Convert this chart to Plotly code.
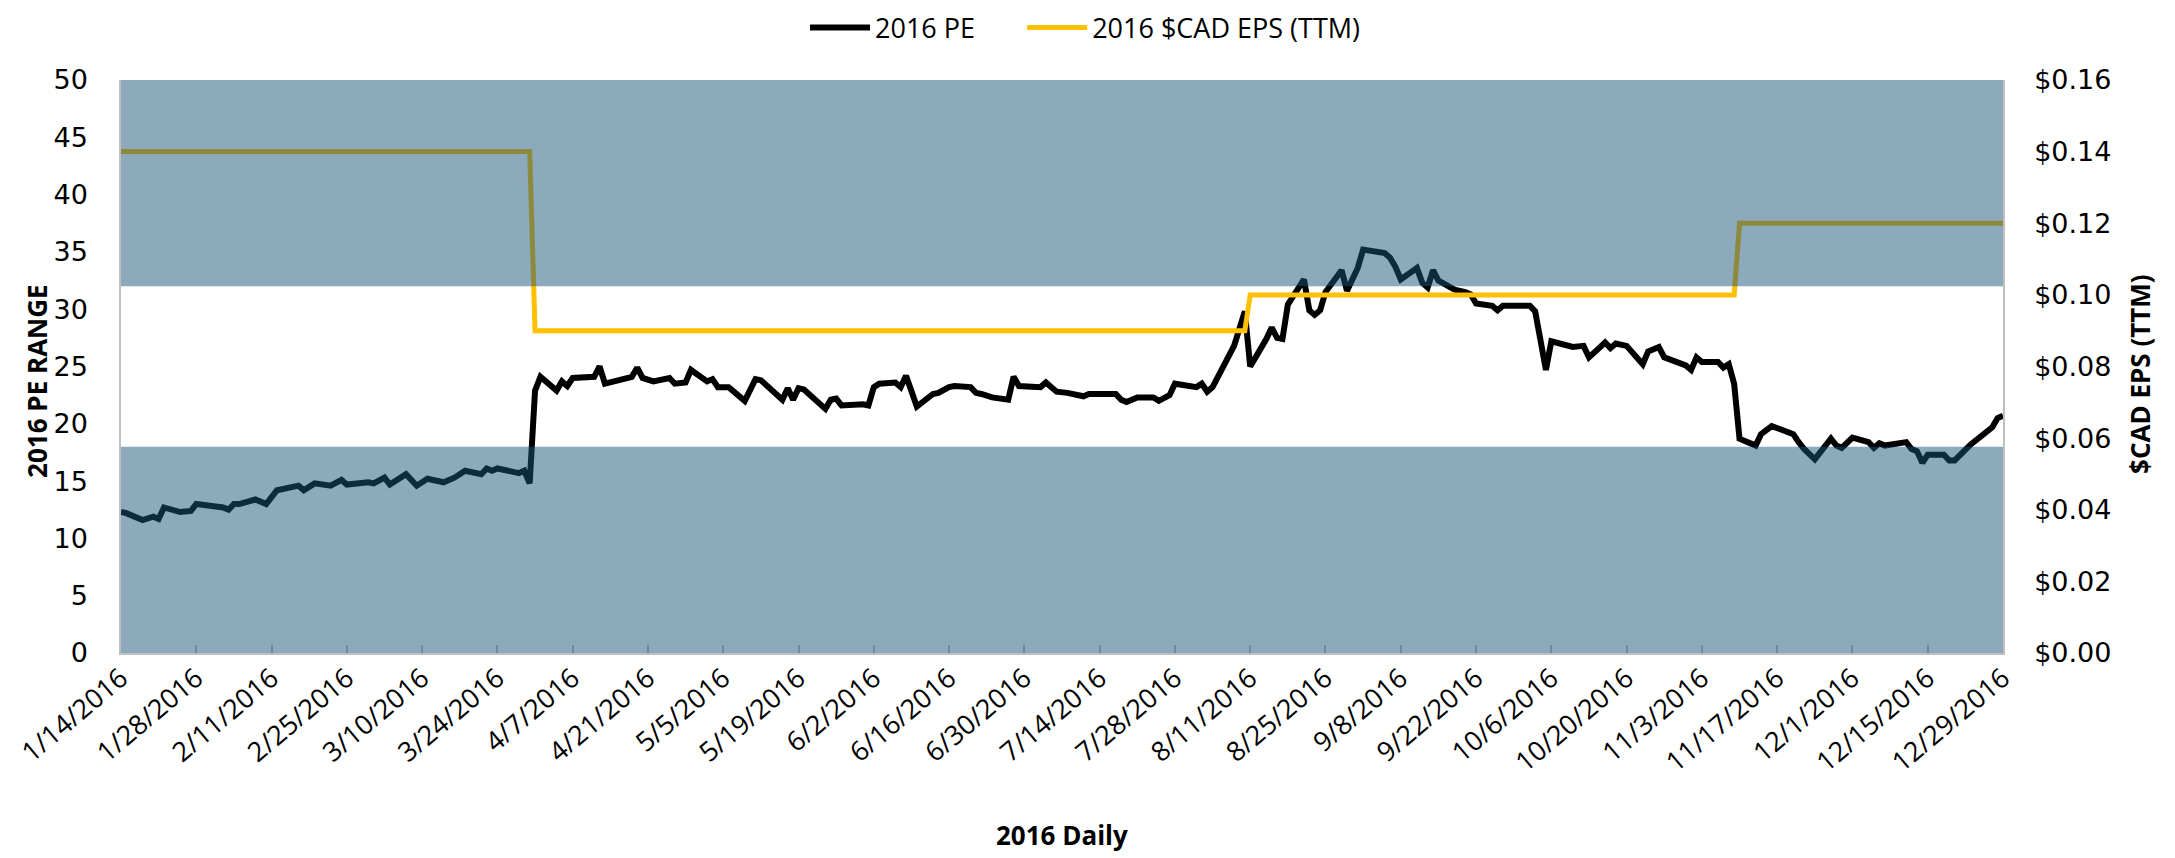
import plotly.graph_objects as go

# ---------------- data ----------------
pe_dates = [
    "2016-01-14", "2016-01-15", "2016-01-18", "2016-01-20", "2016-01-21", "2016-01-22", "2016-01-25", "2016-01-27", "2016-01-28",
    "2016-02-02", "2016-02-03", "2016-02-04", "2016-02-05", "2016-02-08", "2016-02-10", "2016-02-12", "2016-02-16", "2016-02-17",
    "2016-02-19", "2016-02-22", "2016-02-24", "2016-02-25", "2016-02-29",
    "2016-03-01", "2016-03-03", "2016-03-04", "2016-03-07", "2016-03-09", "2016-03-11", "2016-03-14", "2016-03-16", "2016-03-18",
    "2016-03-21", "2016-03-22", "2016-03-23", "2016-03-24", "2016-03-28", "2016-03-29", "2016-03-30", "2016-03-31",
    "2016-04-01", "2016-04-04", "2016-04-05", "2016-04-06", "2016-04-07", "2016-04-11", "2016-04-12", "2016-04-13", "2016-04-18",
    "2016-04-19", "2016-04-20", "2016-04-22", "2016-04-25", "2016-04-26", "2016-04-28", "2016-04-29",
    "2016-05-02", "2016-05-03", "2016-05-04", "2016-05-06", "2016-05-09", "2016-05-11", "2016-05-12", "2016-05-16", "2016-05-17",
    "2016-05-18", "2016-05-19", "2016-05-20", "2016-05-24", "2016-05-25", "2016-05-26", "2016-05-27", "2016-05-31",
    "2016-06-01", "2016-06-02", "2016-06-03", "2016-06-06", "2016-06-07", "2016-06-08", "2016-06-10", "2016-06-13", "2016-06-14",
    "2016-06-16", "2016-06-17", "2016-06-20", "2016-06-21", "2016-06-22", "2016-06-24", "2016-06-27", "2016-06-28", "2016-06-29",
    "2016-07-03", "2016-07-04", "2016-07-06", "2016-07-08", "2016-07-11", "2016-07-12", "2016-07-17", "2016-07-18", "2016-07-19",
    "2016-07-21", "2016-07-24", "2016-07-25", "2016-07-27", "2016-07-28",
    "2016-08-01", "2016-08-02", "2016-08-03", "2016-08-04", "2016-08-08", "2016-08-10", "2016-08-11", "2016-08-14", "2016-08-15",
    "2016-08-16", "2016-08-17", "2016-08-18", "2016-08-21", "2016-08-22", "2016-08-23", "2016-08-24", "2016-08-25", "2016-08-28",
    "2016-08-29", "2016-08-31",
    "2016-09-01", "2016-09-05", "2016-09-06", "2016-09-07", "2016-09-08", "2016-09-11", "2016-09-12", "2016-09-13", "2016-09-14",
    "2016-09-15", "2016-09-18", "2016-09-20", "2016-09-21", "2016-09-22", "2016-09-25", "2016-09-26", "2016-09-27",
    "2016-10-02", "2016-10-03", "2016-10-05", "2016-10-06", "2016-10-10", "2016-10-12", "2016-10-13", "2016-10-16", "2016-10-17",
    "2016-10-18", "2016-10-20", "2016-10-23", "2016-10-24", "2016-10-26", "2016-10-27", "2016-10-31",
    "2016-11-01", "2016-11-02", "2016-11-03", "2016-11-06", "2016-11-07", "2016-11-08", "2016-11-09", "2016-11-10", "2016-11-13",
    "2016-11-14", "2016-11-16", "2016-11-20", "2016-11-21", "2016-11-22", "2016-11-24", "2016-11-27", "2016-11-28", "2016-11-29",
    "2016-12-01", "2016-12-04", "2016-12-05", "2016-12-06", "2016-12-07", "2016-12-11", "2016-12-12", "2016-12-13", "2016-12-14",
    "2016-12-15", "2016-12-18", "2016-12-19", "2016-12-20", "2016-12-23", "2016-12-27", "2016-12-28", "2016-12-29",
]

pe_values = [
    12.3, 12.2, 11.6, 11.9, 11.7, 12.7, 12.3, 12.4, 13.0,
    12.7, 12.5, 13.0, 13.0, 13.4, 13.0, 14.2, 14.6, 14.2, 14.8, 14.6, 15.1, 14.7, 14.9,
    14.8, 15.3, 14.7, 15.6, 14.6, 15.2, 14.9, 15.3, 15.9, 15.6, 16.1, 15.9, 16.1, 15.7, 15.9, 14.8, 22.9,
    24.1, 22.9, 23.7, 23.3, 24.0, 24.1, 25.0, 23.5, 24.1, 24.9, 24.0, 23.7, 24.0, 23.5, 23.6, 24.7,
    23.7, 23.9, 23.2, 23.2, 22.0, 23.9, 23.8, 22.1, 23.1, 22.1, 23.1, 23.0, 21.3, 22.1, 22.2, 21.6, 21.7,
    21.6, 23.2, 23.5, 23.6, 23.2, 24.2, 21.5, 22.6, 22.7, 23.2, 23.3, 23.2, 22.7, 22.6, 22.3, 22.1, 24.1, 23.3,
    23.2, 23.6, 22.8, 22.7, 22.4, 22.6, 22.6, 22.1, 21.9, 22.3, 22.3, 22.0, 22.5, 23.5,
    23.2, 23.5, 22.8, 23.2, 26.8, 29.8, 25.0, 27.4, 28.4, 27.5, 27.4, 30.4, 32.6, 29.9, 29.5, 29.9, 31.5, 33.4, 31.6, 33.6,
    35.2, 34.9, 34.5, 33.7, 32.6, 33.6, 32.3, 31.9, 33.4, 32.5, 31.7, 31.5, 31.3, 30.5, 30.3, 29.9, 30.3,
    30.3, 29.8, 24.7, 27.2, 26.7, 26.8, 25.8, 27.1, 26.6, 27.0, 26.8, 25.2, 26.3, 26.7, 25.8, 25.1,
    24.7, 25.8, 25.4, 25.4, 24.9, 25.2, 23.5, 18.7, 18.1, 19.1, 19.8, 19.1, 18.4, 17.8, 16.9, 18.7, 18.1, 17.9,
    18.8, 18.4, 17.9, 18.3, 18.1, 18.4, 17.8, 17.6, 16.6, 17.3, 17.3, 16.8, 16.8, 18.2, 19.7, 20.5, 20.7,
]

eps_dates = ["2016-01-14", "2016-03-30", "2016-03-31", "2016-08-10", "2016-08-11",
             "2016-11-09", "2016-11-10", "2016-12-29"]
eps_values = [0.14, 0.14, 0.09, 0.09, 0.10, 0.10, 0.12, 0.12]

tick_dates = [
    "2016-01-14", "2016-01-28", "2016-02-11", "2016-02-25", "2016-03-10", "2016-03-24", "2016-04-07",
    "2016-04-21", "2016-05-05", "2016-05-19", "2016-06-02", "2016-06-16", "2016-06-30", "2016-07-14",
    "2016-07-28", "2016-08-11", "2016-08-25", "2016-09-08", "2016-09-22", "2016-10-06", "2016-10-20",
    "2016-11-03", "2016-11-17", "2016-12-01", "2016-12-15", "2016-12-29",
]
tick_labels = [
    "1/14/2016", "1/28/2016", "2/11/2016", "2/25/2016", "3/10/2016", "3/24/2016", "4/7/2016",
    "4/21/2016", "5/5/2016", "5/19/2016", "6/2/2016", "6/16/2016", "6/30/2016", "7/14/2016",
    "7/28/2016", "8/11/2016", "8/25/2016", "9/8/2016", "9/22/2016", "10/6/2016", "10/20/2016",
    "11/3/2016", "11/17/2016", "12/1/2016", "12/15/2016", "12/29/2016",
]

band_low = [0, 18]
band_high = [32, 50]

assert len(pe_dates) == len(pe_values)

FONT = "Open Sans"
NARROW = "Liberation Sans Narrow, Open Sans"
WIDE = "DejaVu Sans"
BAND = "rgba(28,84,121,0.5)"
AXIS_LINE = "#BFBFBF"

# the page body keeps its default 8px offset, so the figure is 8px smaller
W, H = 2167, 850

fig = go.Figure()
fig.add_trace(go.Scatter(
    x=pe_dates, y=pe_values, name="2016 PE", mode="lines",
    line=dict(color="#000000", width=6), yaxis="y", legend="legend",
))
fig.add_trace(go.Scatter(
    x=eps_dates, y=eps_values, name="2016 $CAD EPS (TTM)", mode="lines",
    line=dict(color="#FFC000", width=5), yaxis="y2", legend="legend2",
))

for lo, hi in (band_low, band_high):
    fig.add_shape(type="rect", xref="paper", x0=0, x1=1, yref="y", y0=lo, y1=hi,
                  fillcolor=BAND, line=dict(width=0), layer="above")

legend_common = dict(orientation="h", xref="container", xanchor="left",
                     yref="container", y=0.9765, yanchor="middle",
                     font=dict(family=FONT, size=27, color="#000000"),
                     itemwidth=60, bgcolor="rgba(0,0,0,0)")

fig.update_layout(
    width=W, height=H,
    margin=dict(l=113, r=172, t=72, b=205, autoexpand=False),
    paper_bgcolor="white", plot_bgcolor="white",
    font=dict(family=FONT, size=26, color="#000000"),
    showlegend=True,
    legend=dict(x=0.3678, **legend_common),
    legend2=dict(x=0.468, **legend_common),
    xaxis=dict(
        type="date", range=["2016-01-14", "2016-12-29"], automargin=False,
        tickmode="array", tickvals=tick_dates, ticktext=tick_labels,
        tickangle=-40, ticks="inside", ticklen=8, tickcolor=AXIS_LINE, tickwidth=1.5,
        showline=True, linecolor=AXIS_LINE, linewidth=1.5, showgrid=False, zeroline=False,
        tickfont=dict(family=NARROW, size=27, color="#000000"), ticklabelstandoff=-3,
        ticklabeloverflow="allow",
    ),
    yaxis=dict(
        range=[0, 50], dtick=5, tick0=0, showgrid=False, zeroline=False, automargin=False,
        showline=True, linecolor=AXIS_LINE, linewidth=1.5, ticks="",
        tickfont=dict(family=WIDE, size=27, color="#000000"), ticklabelstandoff=26,
        ticklabeloverflow="allow",
    ),
    yaxis2=dict(
        overlaying="y", side="right", range=[0, 0.16], dtick=0.02, tick0=0, automargin=False,
        tickformat="$.2f", showgrid=False, zeroline=False,
        showline=True, linecolor=AXIS_LINE, linewidth=1.5, ticks="",
        tickfont=dict(family=WIDE, size=27, color="#000000"), ticklabelstandoff=24,
        ticklabeloverflow="allow",
    ),
    annotations=[
        dict(text="<b>2016 Daily</b>", xref="paper", yref="paper", x=0.5, y=-0.318,
             xanchor="center", yanchor="middle", showarrow=False,
             font=dict(family=FONT, size=26, color="#000000")),
        dict(text="<b>2016 PE RANGE</b>", xref="paper", yref="paper", x=-0.0446, y=0.475,
             xanchor="center", yanchor="middle", textangle=-90, showarrow=False,
             font=dict(family=FONT, size=26, color="#000000")),
        dict(text="<b>$CAD EPS (TTM)</b>", xref="paper", yref="paper", x=1.0728, y=0.487,
             xanchor="center", yanchor="middle", textangle=-90, showarrow=False,
             font=dict(family=FONT, size=26, color="#000000")),
    ],
)

fig.write_html("out.html")
